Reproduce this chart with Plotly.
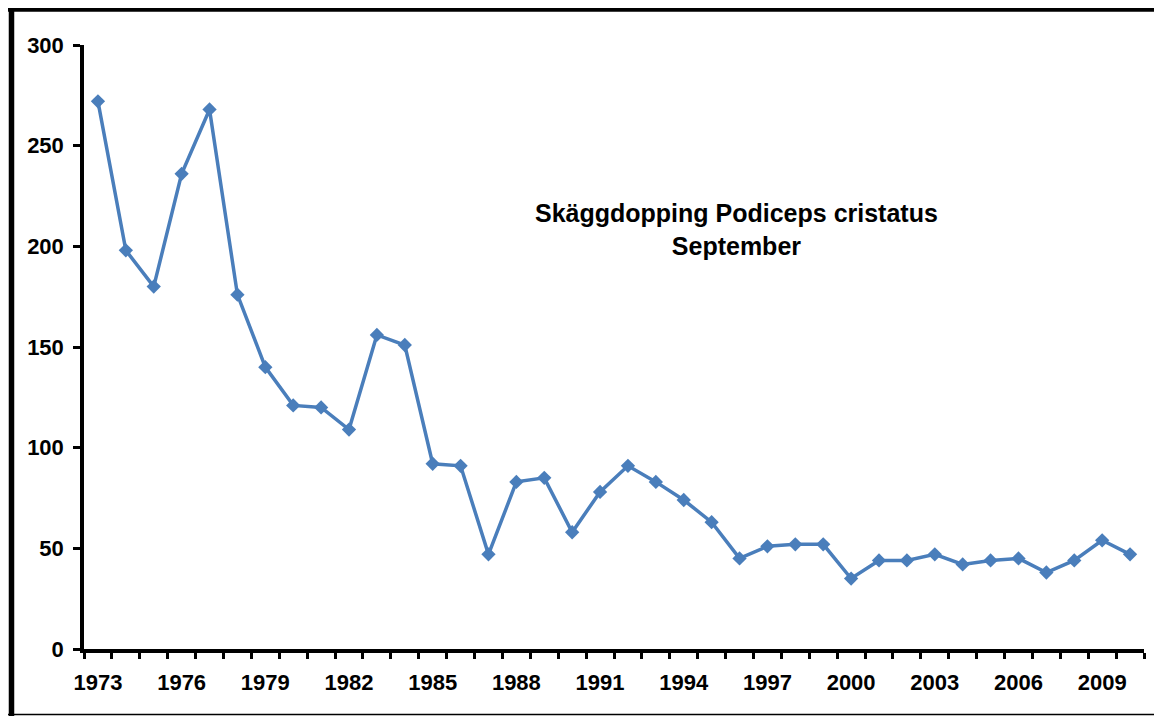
import plotly.graph_objects as go

years = list(range(1973, 2011))
counts = [272, 198, 180, 236, 268, 176, 140, 121, 120, 109,
          156, 151, 92, 91, 47, 83, 85, 58, 78, 91,
          83, 74, 63, 45, 51, 52, 52, 35, 44, 44,
          47, 42, 44, 45, 38, 44, 54, 47]
year_labels = list(range(1973, 2011, 3))
y_ticks = [0, 50, 100, 150, 200, 250, 300]

line_color = '#4a7ebb'
font_family = 'Arial, Liberation Sans, sans-serif'

trace = go.Scatter(
    x=years,
    y=counts,
    mode='lines+markers',
    line=dict(color=line_color, width=3.5),
    marker=dict(symbol='diamond', size=11, color=line_color),
    showlegend=False,
    cliponaxis=False,
)

# page body has an 8px margin, so the figure is a bit smaller than the window
layout = go.Layout(
    width=1154,
    height=708,
    margin=dict(l=76, r=18, t=37, b=67),
    paper_bgcolor='white',
    plot_bgcolor='white',
    font=dict(family=font_family, color='black'),
    xaxis=dict(
        range=[1972.5, 2010.5],
        tickmode='array',
        tickvals=year_labels,
        ticktext=[str(y) for y in year_labels],
        ticks='',
        ticklabelstandoff=11,
        tickfont=dict(size=22, family=font_family, weight='bold'),
        showgrid=False,
        zeroline=False,
        showline=True,
        linecolor='black',
        linewidth=3.5,
        automargin=False,
        minor=dict(
            tickmode='linear',
            tick0=1972.5,
            dtick=1,
            ticks='outside',
            ticklen=6,
            tickwidth=2.5,
            tickcolor='black',
            showgrid=False,
        ),
        fixedrange=True,
    ),
    yaxis=dict(
        range=[0, 300],
        tickvals=y_ticks,
        ticks='outside',
        ticklen=7,
        tickwidth=2.5,
        tickcolor='black',
        ticklabelstandoff=5,
        tickfont=dict(size=22, family=font_family, weight='bold'),
        showgrid=False,
        zeroline=False,
        showline=True,
        linecolor='black',
        linewidth=3.5,
        automargin=False,
        fixedrange=True,
    ),
    annotations=[dict(
        text='Skäggdopping Podiceps cristatus<br>September',
        xref='paper', yref='paper',
        x=0.616, y=0.695,
        xanchor='center', yanchor='middle',
        showarrow=False,
        font=dict(size=25, family=font_family, weight='bold', color='black'),
    )],
    shapes=[
        # frame: thick top and left, thin bottom
        dict(type='line', xref='paper', yref='paper', layer='above',
             x0=-0.0717, x1=1.0170, y0=1.0588, y1=1.0588,
             line=dict(color='black', width=4.5)),
        dict(type='line', xref='paper', yref='paper', layer='above',
             x0=-0.0684, x1=-0.0684, y0=1.0654, y1=-0.1109,
             line=dict(color='black', width=5.5)),
        dict(type='line', xref='paper', yref='paper', layer='above',
             x0=-0.0717, x1=1.0170, y0=-0.1084, y1=-0.1084,
             line=dict(color='black', width=1.5)),
    ],
)

fig = go.Figure(data=[trace], layout=layout)
fig.write_html('out.html')
